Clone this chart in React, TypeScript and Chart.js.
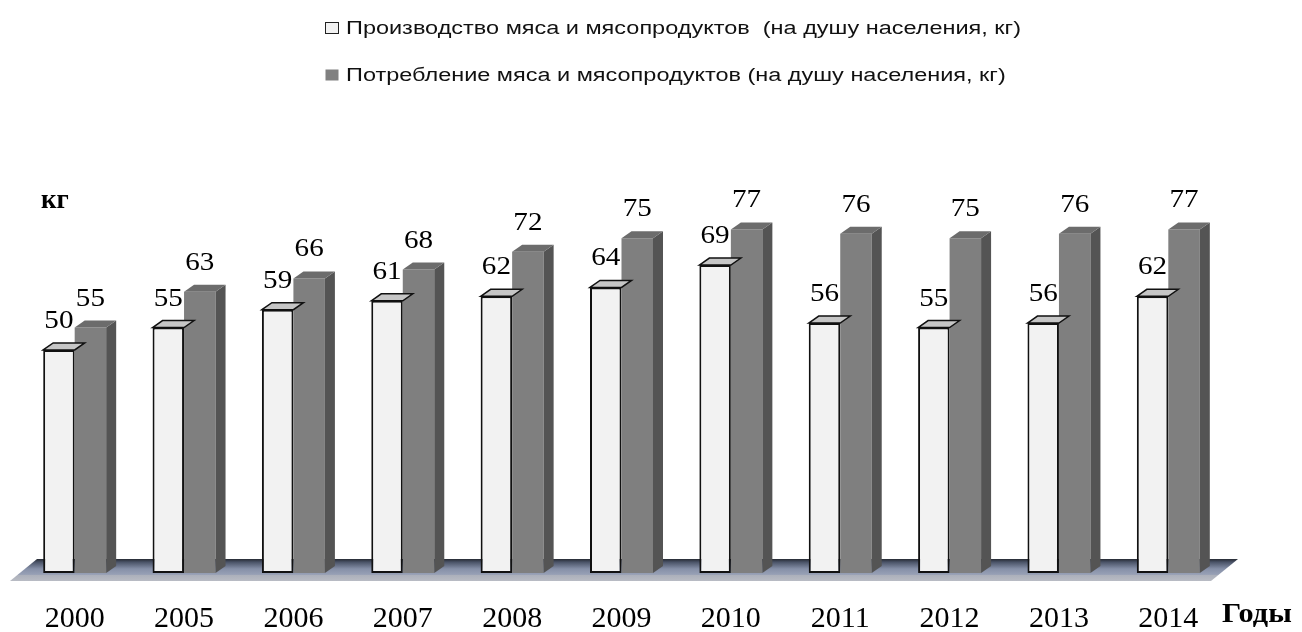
import React, { useEffect, useRef } from "react";
import { Chart, registerables } from "chart.js";

Chart.register(...registerables);

const years = ["2000", "2005", "2006", "2007", "2008", "2009", "2010", "2011", "2012", "2013", "2014"];
const production = [50, 55, 59, 61, 62, 64, 69, 56, 55, 56, 62];
const consumption = [55, 63, 66, 68, 72, 75, 77, 76, 75, 76, 77];
const seriesLabels = [
  "Производство мяса и мясопродуктов  (на душу населения, кг)",
  "Потребление мяса и мясопродуктов (на душу населения, кг)",
];
const yAxisTitle = "кг";
const xAxisTitle = "Годы";

const DX = 10;
const DY = 7;

function poly(ctx: CanvasRenderingContext2D, pts: number[][]) {
  ctx.beginPath();
  ctx.moveTo(pts[0][0], pts[0][1]);
  for (let i = 1; i < pts.length; i++) ctx.lineTo(pts[i][0], pts[i][1]);
  ctx.closePath();
}

const bar3d = {
  id: "bar3d",
  beforeDatasetsDraw(chart: any) {
    const { ctx, chartArea } = chart;
    const base = chart.scales.y.getPixelForValue(0);
    const backY = base - 14;
    const frontY = base + 8;
    const l = chartArea.left;
    const r = chartArea.right;
    ctx.save();
    const g = ctx.createLinearGradient(0, backY, 0, frontY);
    g.addColorStop(0, "#262a33");
    g.addColorStop(0.14, "#4a5367");
    g.addColorStop(0.45, "#8690a8");
    g.addColorStop(0.7, "#97a0b5");
    g.addColorStop(0.74, "#acb0bb");
    g.addColorStop(1, "#b9bcc4");
    ctx.fillStyle = g;
    poly(ctx, [
      [l + 17, backY],
      [r + 15, backY],
      [r - 12, frontY],
      [l - 10, frontY],
    ]);
    ctx.fill();
    ctx.restore();
  },
  beforeDatasetDraw(chart: any, args: any) {
    if (args.index !== 0) return;
    const { ctx } = chart;
    const meta = chart.getDatasetMeta(0);
    ctx.save();
    meta.data.forEach((el: any) => {
      const { x, y, width } = el.getProps(["x", "y", "width"], true);
      const x0 = x - width / 2;
      const x1 = x + width / 2;
      poly(ctx, [
        [x0, y],
        [x0 + DX, y - DY],
        [x1 + DX, y - DY],
        [x1, y],
      ]);
      ctx.fillStyle = "#c6c6c6";
      ctx.fill();
      ctx.strokeStyle = "#111";
      ctx.lineWidth = 1.5;
      ctx.stroke();
    });
    ctx.restore();
  },
  afterDatasetDraw(chart: any, args: any) {
    if (args.index !== 1) return;
    const { ctx } = chart;
    const meta = chart.getDatasetMeta(1);
    ctx.save();
    meta.data.forEach((el: any) => {
      const { x, y, base, width } = el.getProps(["x", "y", "base", "width"], true);
      const x0 = x - width / 2;
      const x1 = x + width / 2;
      poly(ctx, [
        [x1, y],
        [x1 + DX, y - DY],
        [x1 + DX, base - DY],
        [x1, base],
      ]);
      ctx.fillStyle = "#545454";
      ctx.fill();
      poly(ctx, [
        [x0, y],
        [x0 + DX, y - DY],
        [x1 + DX, y - DY],
        [x1, y],
      ]);
      ctx.fillStyle = "#6c6c6c";
      ctx.fill();
    });
    ctx.restore();
  },
  afterDatasetsDraw(chart: any) {
    const { ctx } = chart;
    ctx.save();
    ctx.fillStyle = "#000";
    ctx.font = "26px 'Liberation Serif'";
    ctx.textAlign = "center";
    ctx.textBaseline = "alphabetic";
    chart.data.datasets.forEach((ds: any, di: number) => {
      const meta = chart.getDatasetMeta(di);
      meta.data.forEach((el: any, i: number) => {
        const { x, y } = el.getProps(["x", "y"], true);
        ctx.save();
        ctx.translate(x, y - 22);
        ctx.scale(1.12, 1);
        ctx.fillText(String(ds.data[i]), 0, 0);
        ctx.restore();
      });
    });
    ctx.restore();
  },
  afterDraw(chart: any) {
    const { ctx } = chart;
    ctx.save();
    // legend
    ctx.font = "18px 'Liberation Sans'";
    ctx.textBaseline = "alphabetic";
    ctx.textAlign = "left";
    const target = 675;
    const sx = target / ctx.measureText(seriesLabels[0]).width;
    const rows = [
      { y: 34, fill: "#f2f2f2", stroke: "#222" },
      { y: 81, fill: "#808080", stroke: null },
    ];
    chart.data.datasets.forEach((ds: any, i: number) => {
      const row = rows[i];
      ctx.fillStyle = row.fill;
      ctx.fillRect(325.5, row.y - 11.5, 13, 11);
      if (row.stroke) {
        ctx.strokeStyle = row.stroke;
        ctx.lineWidth = 1;
        ctx.strokeRect(325.5, row.y - 11.5, 13, 11);
      }
      ctx.save();
      ctx.translate(346, row.y);
      ctx.scale(sx, 1);
      ctx.fillStyle = "#111";
      ctx.fillText(ds.label, 0, 0);
      ctx.restore();
    });
    // axis titles
    ctx.fillStyle = "#000";
    ctx.font = "bold 27px 'Liberation Serif'";
    ctx.fillText(yAxisTitle, 41, 208);
    ctx.save();
    ctx.translate(1222, 622);
    ctx.scale(1.12, 1);
    ctx.font = "bold 27px 'Liberation Serif'";
    ctx.fillText(xAxisTitle, 0, 0);
    ctx.restore();
    ctx.restore();
  },
};

export default function App() {
  const ref = useRef<HTMLCanvasElement | null>(null);
  useEffect(() => {
    document.body.style.margin = "0";
    const canvas = ref.current;
    if (!canvas) return;
    const chart = new Chart(canvas, {
      type: "bar",
      data: {
        labels: years,
        datasets: [
          {
            label: seriesLabels[0],
            data: production,
            backgroundColor: "#f2f2f2",
            borderColor: "#111",
            borderWidth: 2,
            borderSkipped: false,
            categoryPercentage: 0.576,
            barPercentage: 1,
          },
          {
            label: seriesLabels[1],
            data: consumption,
            backgroundColor: "#7f7f7f",
            borderWidth: 0,
            categoryPercentage: 0.576,
            barPercentage: 1,
          },
        ],
      },
      options: {
        responsive: false,
        animation: false,
        devicePixelRatio: 1,
        layout: { padding: { top: 216, left: 20, right: 79, bottom: 0 } },
        plugins: {
          legend: { display: false },
          tooltip: { enabled: false },
          title: { display: false },
        },
        scales: {
          x: {
            grid: { display: false, drawTicks: false },
            border: { display: false },
            ticks: {
              color: "#000",
              padding: 28,
              font: { family: "'Liberation Serif'", size: 30 },
            },
            afterFit: (scale: any) => {
              scale.height = 59;
            },
          },
          y: {
            display: false,
            min: 0,
            max: 80,
          },
        },
      },
      plugins: [bar3d],
    });
    return () => chart.destroy();
  }, []);
  return <canvas ref={ref} width={1302} height={632} style={{ display: "block" }} />;
}
